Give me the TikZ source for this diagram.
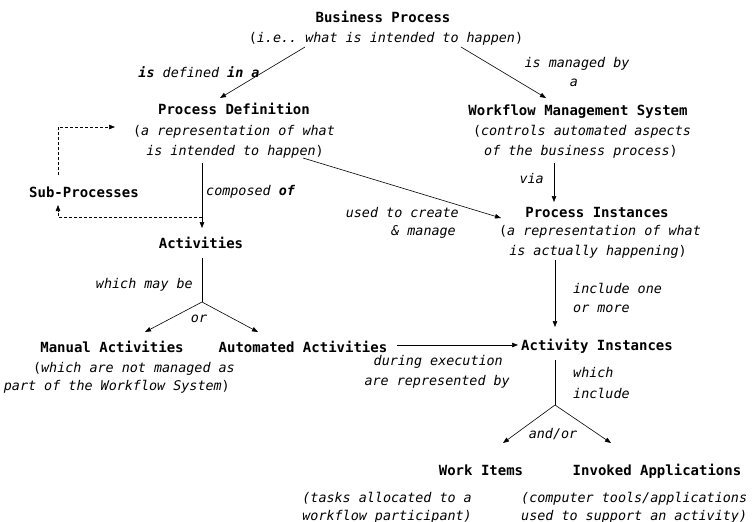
\documentclass[tikz,border=0pt]{standalone}
\usepackage{fontspec}
\setmonofont{DejaVu Sans Mono}
\usetikzlibrary{arrows.meta,calc}
\newcommand\lpar{\textup{(}}
\newcommand\rpar{\textup{)}}
\begin{document}
\begin{tikzpicture}[x=1pt,y=-1pt,
  title/.style={font=\ttfamily\bfseries\fontsize{14}{16}\selectfont, inner sep=0pt, anchor=base},
  desc/.style={font=\ttfamily\itshape\fontsize{13.4}{16}\selectfont, inner sep=0pt, anchor=base},
  lbl/.style={desc},
  conn/.style={line width=0.6pt, -{Triangle[length=6pt,width=4.5pt]}},
  plain/.style={line width=0.6pt},
  dashconn/.style={conn, dash pattern=on 3pt off 2pt}]
\useasboundingbox (0,0) rectangle (753,522);

% ---- concepts ----
\node[title] (bp)  at (383,22)  {Business Process};
\node[desc]  (bpd) at (386,42)  {\lpar i.e.. what is intended to happen\rpar};

\node[title] (pd)   at (234,114) {Process Definition};
\node[desc]  (pdd1) at (234,135) {\lpar a representation of what};
\node[desc]  (pdd2) at (235,155) {is intended to happen\rpar};

\node[title] (wms)   at (578,115) {Workflow Management System};
\node[desc]  (wmsd1) at (582,135) {\lpar controls automated aspects};
\node[desc]  (wmsd2) at (581,155) {of the business process\rpar};

\node[title] (pi)   at (597,217) {Process Instances};
\node[desc]  (pid1) at (600,235) {\lpar a representation of what};
\node[desc]  (pid2) at (598,255) {is actually happening\rpar};

\node[title] (sp)  at (84,197)  {Sub-Processes};
\node[title] (act) at (201,248) {Activities};

\node[title] (ma)   at (112,352) {Manual Activities};
\node[desc, anchor=base east] (mad1) at (235,372) {\lpar which are not managed as};
\node[desc, anchor=base east] (mad2) at (230,390) {part of the Workflow System\rpar};

\node[title] (aa) at (303,352) {Automated Activities};
\node[title] (ai) at (597,350) {Activity Instances};

\node[title] (wi) at (481,475) {Work Items};
\node[desc, anchor=base east] (wid1) at (472,502) {(tasks allocated to a};
\node[desc, anchor=base east] (wid2) at (472,520) {workflow participant)};

\node[title] (ia) at (657,475) {Invoked Applications};
\node[desc, anchor=base west] (iad1) at (521,502) {(computer tools/applications};
\node[desc, anchor=base west] (iad2) at (521,520) {used to support an activity)};

% ---- branch points ----
\coordinate (actfork) at ($(act.base)+(1,54)$);
\coordinate (aifork)  at ($(ai.base)+(-42,55)$);

% ---- connectors ----
\draw[conn] ($(bpd.base)+(-81,5)$) -- ($(pd.base)+(-14,-16)$);
\draw[conn] ($(bpd.base)+(75,5)$)  -- ($(wms.base)+(-32,-17)$);
\draw[conn] ($(wmsd2.base)+(-27,8)$) -- ($(pi.base)+(-43,-15)$);
\draw[conn] ($(pdd2.base)+(68,3)$) -- ($(pi.base)+(-96,1)$);
\draw[conn] ($(pdd2.base)+(-33,8)$) -- ($(act.base)+(1,-20)$);

\draw[dashconn] ($(act.base)+(1,-31)$) -| ($(sp.base)+(-26,8)$);
\draw[dashconn] ($(sp.base)+(-26,-22)$) |- ($(pdd1.base)+(-119,-8)$);

\draw[plain] ($(act.base)+(1,10)$) -- (actfork);
\draw[conn] (actfork) -- ($(ma.base)+(33,-20)$);
\draw[conn] (actfork) -- ($(aa.base)+(-45,-20)$);

\draw[conn] ($(aa.base)+(94,-7)$) -- ($(ai.base)+(-79,-5)$);
\draw[conn] ($(pid2.base)+(-43,5)$) -- ($(ai.base)+(-42,-23)$);

\draw[plain] ($(ai.base)+(-42,10)$) -- (aifork);
\draw[conn] (aifork) -- ($(wi.base)+(22,-32)$);
\draw[conn] (aifork) -- ($(ia.base)+(-46,-32)$);

% ---- connector labels ----
\node[lbl] (l1) at (199,77) {\textbf{is} defined \textbf{in a}};
\node[lbl] (l2a) at (577,67) {is managed by};
\node[lbl] (l2b) at (574,86) {a};
\node[lbl, anchor=base east] (l3) at (544,183) {via};
\node[lbl, anchor=base east] (l4a) at (459,217) {used to create};
\node[lbl, anchor=base east] (l4b) at (456,235) {\& manage};
\node[lbl, anchor=base west] (l5) at (206,195) {composed \textbf{of}};
\node[lbl, anchor=base east] (l6) at (193,288) {which may be};
\node[lbl] (l7) at (199,322) {or};
\node[lbl, anchor=base west] (l8a) at (573,293) {include one};
\node[lbl, anchor=base west] (l8b) at (573,312) {or more};
\node[lbl, anchor=base east] (l9a) at (503,365) {during execution};
\node[lbl, anchor=base east] (l9b) at (510,385) {are represented by};
\node[lbl, anchor=base west] (l10a) at (573,377) {which};
\node[lbl, anchor=base west] (l10b) at (573,398) {include};
\node[lbl] (l11) at (553,438) {and/or};
\end{tikzpicture}
\end{document}
